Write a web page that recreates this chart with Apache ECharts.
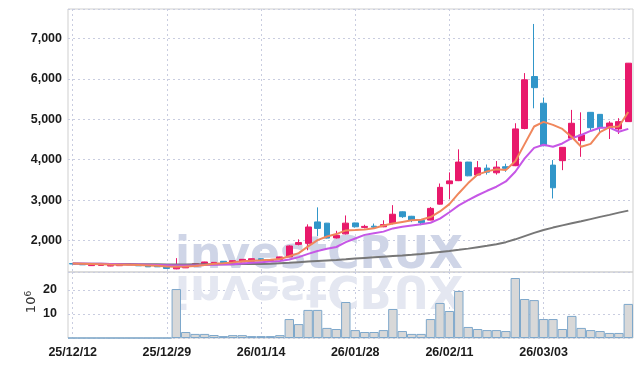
<!DOCTYPE html>
<html>
<head>
<meta charset="utf-8">
<script src="https://cdn.jsdelivr.net/npm/echarts@6/dist/echarts.min.js"></script>
<style>html,body{margin:0;padding:0;background:#fff;}#c{width:642px;height:366px;}</style>
</head>
<body>
<div id="c"></div>
<script>
const dates = ['25/12/12','25/12/15','25/12/16','25/12/17','25/12/18','25/12/19','25/12/22','25/12/23','25/12/24','25/12/26',
'25/12/29','25/12/30','26/01/02','26/01/05','26/01/06','26/01/07','26/01/08','26/01/09','26/01/12','26/01/13',
'26/01/14','26/01/15','26/01/16','26/01/19','26/01/20','26/01/21','26/01/22','26/01/23','26/01/26','26/01/27',
'26/01/28','26/01/29','26/01/30','26/02/02','26/02/03','26/02/04','26/02/05','26/02/06','26/02/09','26/02/10',
'26/02/11','26/02/12','26/02/13','26/02/19','26/02/20','26/02/23','26/02/24','26/02/25','26/02/26','26/02/27',
'26/03/03','26/03/04','26/03/05','26/03/06','26/03/09','26/03/10','26/03/11','26/03/12','26/03/13','26/03/16'];

const opens = [1430,1415,1380,1385,1370,1378,1400,1395,1380,1370,
1350,1300,1325,1370,1415,1430,1487,1450,1470,1490,
1550,1505,1530,1595,1905,1930,2460,2430,2065,2165,
2435,2325,2355,2340,2420,2710,2600,2500,2505,2900,
3405,3480,3940,3620,3790,3675,3825,3850,4770,6055,
5395,3865,3975,4530,4470,5170,5120,4790,4760,4940];
const closes = [1420,1400,1405,1405,1390,1405,1405,1375,1350,1350,
1310,1370,1390,1430,1470,1460,1450,1500,1535,1550,
1510,1520,1595,1865,1950,2335,2300,2060,2130,2430,
2340,2350,2330,2395,2650,2590,2505,2440,2795,3315,
3475,3940,3600,3800,3690,3815,3785,4760,5975,5780,
4345,3305,4305,4900,4610,4790,4790,4905,4940,6385];
const lows = [1415,1395,1378,1382,1365,1375,1398,1372,1348,1345,
1305,1290,1320,1365,1410,1425,1445,1445,1465,1485,
1505,1490,1525,1590,1880,1760,2110,2050,2050,2150,
2320,2300,2300,2330,2400,2560,2455,2380,2500,2890,
3025,3470,3590,3600,3630,3630,3700,3840,4750,5270,
4330,3040,3740,4500,4070,4690,4650,4510,4635,4940];
const highs = [1435,1420,1408,1408,1395,1410,1408,1398,1385,1372,
1355,1565,1395,1435,1475,1465,1490,1505,1540,1555,
1555,1530,1600,1880,2030,2400,2820,2435,2240,2620,
2440,2390,2420,2500,2875,2720,2610,2505,2830,3410,
3685,4255,3945,3965,3880,3965,3900,4900,6140,7355,
5535,3990,4310,5230,5170,5175,5125,4950,5025,6390];

const volumes = [0,0,0,0,0,0,0,0,0,0,
0,20.4,2.5,1.7,1.7,1.25,0.8,1.2,1.2,0.8,
0.8,0.8,1.2,7.9,5.8,11.7,11.7,4.2,3.75,15,
3.3,2.5,2.5,3.3,12.1,2.9,1.7,1.7,7.9,14.6,
11.25,19.6,4.6,3.75,3.3,3.3,2.9,25,16.25,15.8,
7.9,7.9,3.75,9.2,4.2,3.3,2.9,2.1,2.1,14.2];

const ma5 = [1430,1425,1420,1415,1405,1400,1400,1395,1385,1375,
1360,1350,1355,1370,1395,1425,1440,1460,1485,1500,
1510,1525,1545,1610,1690,1855,2010,2100,2160,2250,
2260,2275,2305,2370,2420,2460,2500,2515,2580,2720,
2900,3170,3420,3630,3710,3765,3745,3960,4390,4820,
4935,4860,4760,4560,4320,4390,4680,4805,4820,5180];
const ma10 = [1435,1432,1428,1424,1420,1415,1410,1405,1400,1395,
1390,1385,1380,1385,1395,1400,1405,1415,1430,1450,
1465,1480,1495,1530,1590,1670,1740,1795,1840,1960,
2050,2140,2180,2220,2300,2340,2370,2400,2440,2540,
2700,2870,3000,3120,3230,3330,3460,3700,4030,4290,
4370,4320,4400,4530,4610,4710,4790,4790,4690,4760];
const maLong = [1430,1428,1426,1424,1422,1420,1418,1416,1414,1412,
1410,1410,1410,1411,1412,1413,1414,1415,1417,1418,
1420,1428,1440,1452,1466,1480,1494,1507,1520,1535,
1555,1570,1585,1600,1615,1630,1648,1668,1690,1718,
1742,1770,1800,1835,1870,1910,1960,2030,2110,2190,
2260,2320,2375,2425,2475,2530,2585,2635,2690,2740];

const priceTicks = [2000,3000,4000,5000,6000,7000];
const volTicks = [10,20];

const candleData = opens.map((o,i)=>[o,closes[i],lows[i],highs[i]]);
const FONT = "'Liberation Sans',Arial,sans-serif";
const gridLine = {show:true,lineStyle:{color:'#c9cde0',type:[2,3],width:1}};
const fmt = v => String(v).replace(/\B(?=(\d{3})+(?!\d))/g, ',');
const labelStyle = {color:'#1a1a1a',fontFamily:FONT,fontSize:12.5,fontWeight:'bold'};
const WM_FONT = "bold 44px 'DejaVu Sans', sans-serif";

const chart = echarts.init(document.getElementById('c'), null, {renderer:'canvas'});
chart.setOption({
  animation:false,
  grid:[
    {left:68,right:9,top:9,height:263,show:true,borderColor:'#cfcfcf',borderWidth:1},
    {left:68,right:9,top:272,height:66,show:true,borderColor:'#cfcfcf',borderWidth:1}
  ],
  xAxis:[
    {type:'category',gridIndex:0,data:dates,boundaryGap:true,
     axisLine:{show:false},axisTick:{show:false,alignWithLabel:true,interval:9},axisLabel:{show:false,interval:9},
     splitLine:{show:true,interval:9,alignWithLabel:true,lineStyle:{color:'#c9cde0',type:[2,3]}}},
    {type:'category',gridIndex:1,data:dates,boundaryGap:true,
     axisLine:{show:false},axisTick:{show:false,alignWithLabel:true,interval:9},
     axisLabel:Object.assign({show:true,interval:9,margin:8},labelStyle),
     splitLine:{show:true,interval:9,alignWithLabel:true,lineStyle:{color:'#c9cde0',type:[2,3]}}}
  ],
  yAxis:[
    {type:'value',gridIndex:0,min:1222,max:7725,splitNumber:6,
     axisLine:{show:false},axisTick:{show:false},
     axisLabel:Object.assign({showMinLabel:false,showMaxLabel:false,margin:6,
       formatter:v=>priceTicks.includes(v)?fmt(v):''},labelStyle),
     splitLine:gridLine},
    {type:'value',gridIndex:1,min:0,max:27.5,interval:10,
     axisLine:{show:false},axisTick:{show:false},
     axisLabel:Object.assign({showMinLabel:false,showMaxLabel:false,margin:11,
       formatter:v=>volTicks.includes(v)?String(v):''},labelStyle),
     splitLine:gridLine}
  ],
  graphic:[
    {type:'text',x:175,y:272,z:1,silent:true,
     style:{text:'investCRUX',x:0,y:7,verticalAlign:'bottom',align:'left',font:WM_FONT,fill:'#cfd5e7'}},
    {type:'text',x:175,y:272,scaleY:-1,z:1,silent:true,
     style:{text:'investCRUX',x:0,y:7,verticalAlign:'bottom',align:'left',font:WM_FONT,fill:'#e4e7f1'}},
    {type:'text',x:32,y:302,rotation:Math.PI/2,z:5,silent:true,
     style:{text:'10{s|6}',align:'center',verticalAlign:'middle',font:"13px 'DejaVu Sans', sans-serif",fill:'#333',
       rich:{s:{fontSize:9,fontFamily:'DejaVu Sans',fill:'#333',padding:[0,0,7,0]}}}}
  ],
  series:[
    {type:'candlestick',xAxisIndex:0,yAxisIndex:0,data:candleData,barWidth:'68%',z:3,
     itemStyle:{color:'#e8196b',color0:'#3196c9',borderColor:'#e8196b',borderColor0:'#3196c9',borderWidth:1}},
    {type:'line',xAxisIndex:0,yAxisIndex:0,data:maLong,symbol:'none',z:4,lineStyle:{color:'#777777',width:2}},
    {type:'line',xAxisIndex:0,yAxisIndex:0,data:ma10,symbol:'none',z:4,lineStyle:{color:'#c657e6',width:2}},
    {type:'line',xAxisIndex:0,yAxisIndex:0,data:ma5,symbol:'none',z:4,lineStyle:{color:'#f0875c',width:2}},
    {type:'bar',xAxisIndex:1,yAxisIndex:1,data:volumes,barWidth:'100%',barCategoryGap:0,z:3,
     itemStyle:{color:'#d8d8d8',borderColor:'#7ea8cb',borderWidth:1}}
  ]
});
</script>
</body>
</html>
